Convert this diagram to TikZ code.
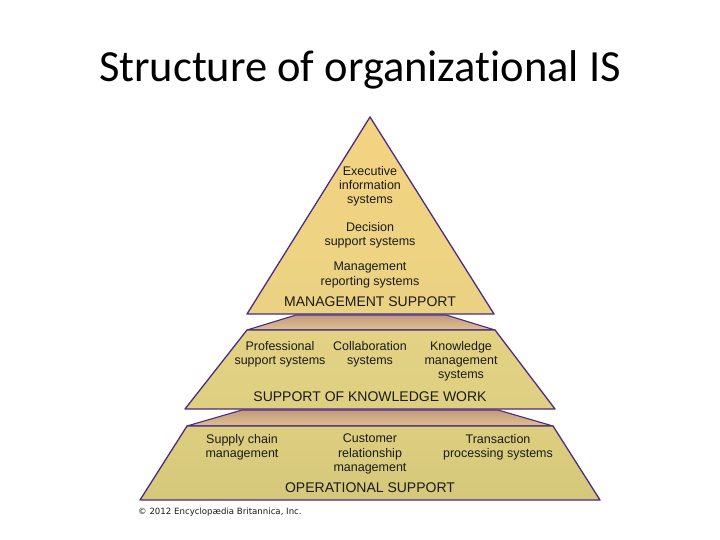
\documentclass[tikz,border=0pt]{standalone}
\usepackage{fontspec}
\setmainfont{Liberation Sans}
\newfontfamily\titlefont[Ligatures=NoCommon]{Carlito}
\newfontfamily\notefont{DejaVu Sans}
\usetikzlibrary{calc}

\definecolor{edgepurple}{HTML}{4A2C82}
\definecolor{layertop}{HTML}{F4D381}
\definecolor{layermid}{HTML}{E3D283}
\definecolor{layerlow}{HTML}{D5C87A}
\definecolor{bandtop}{HTML}{C39A80}
\definecolor{bandlow}{HTML}{DDC28C}
\definecolor{inktext}{HTML}{1A1A1A}

\begin{document}
\begin{tikzpicture}
      [x = 1pt, y = -1pt,
      layer/.style= {
         draw = edgepurple,
         line width = 1.3pt,
         line join = round
      },
      band/.style= {
         draw = edgepurple,
         line width = 1.1pt,
         line join = round,
         top color = bandtop,
         bottom color = bandlow
      },
      item/.style= {
         align = center,
         text = inktext,
         inner sep = 0pt,
         font = \fontsize{12.5}{14.2}\selectfont
      },
      tier/.style= {
         text = inktext,
         inner sep = 0pt,
         font = \fontsize{14}{16}\selectfont
      }]

      \useasboundingbox (0, 0) rectangle (720, 540);

      \node[anchor = base, font = \titlefont\fontsize{44.5}{50}\selectfont] (title) at (360, 82) {Structure of organizational IS};

      % bands behind the layers
      \shade[band] (296, 315) -- (446, 315) -- (495, 330) -- (247, 330) -- cycle;
      \shade[band] (242, 410) -- (498, 410) -- (553, 426) -- (187, 426) -- cycle;

      % the three layers
      \shade[layer, top color = layerlow!40!layermid, bottom color = layerlow]
         (187, 426) -- (553, 426) -- (600, 500) -- (140, 500) -- cycle;
      \shade[layer, top color = layermid, bottom color = layermid!70!layerlow]
         (247, 330) -- (495, 330) -- (555, 409) -- (185, 409) -- cycle;
      \shade[layer, top color = layertop, bottom color = layermid!60!layertop]
         (370, 117) -- (494, 314) -- (247, 314) -- cycle;

      \node[item] (exec) at (370, 186) {Executive\\information\\systems};
      \node[item] (dss) at (370, 235) {Decision\\support systems};
      \node[item] (mrs) at (370, 275) {Management\\reporting systems};
      \node[tier] (mgmt) at (370, 302) {MANAGEMENT SUPPORT};

      \node[item] (prof) at (280, 354) {Professional\\support systems};
      \node[item] (collab) at (370, 354) {Collaboration\\systems};
      \node[item] (know) at (461, 361) {Knowledge\\management\\systems};
      \node[tier] (kwork) at (370, 397) {SUPPORT OF KNOWLEDGE WORK};

      \node[item] (scm) at (242, 447) {Supply chain\\management};
      \node[item] (crm) at (370, 454) {Customer\\relationship\\management};
      \node[item] (tps) at (498, 447) {Transaction\\processing systems};
      \node[tier] (ops) at (370, 488) {OPERATIONAL SUPPORT};

      \node[anchor = west, text = inktext, inner sep = 0pt, font = \notefont\fontsize{8.6}{10}\selectfont] (copy) at (138, 512) {\textcopyright{} 2012 Encyclop\ae dia Britannica, Inc.};

   \end{tikzpicture}
\end{document}
